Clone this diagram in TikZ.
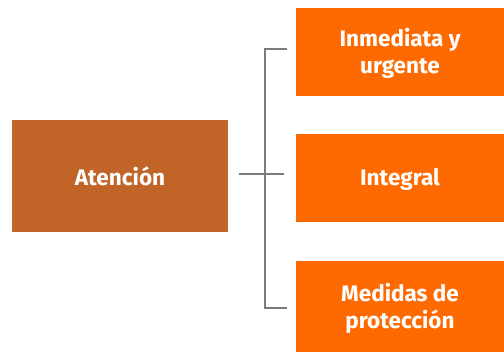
\documentclass[tikz,border=0pt]{standalone}
\usepackage{fontspec}
\setmainfont{Fira Sans}
\definecolor{leftc}{RGB}{192,101,39}
\definecolor{rightc}{RGB}{255,106,0}
\definecolor{linec}{RGB}{122,122,122}
\begin{document}
\begin{tikzpicture}[x=1pt,y=-1pt,
  box/.style={inner sep=0pt, text=white, font=\fontsize{22.5}{27}\selectfont\bfseries, align=center},
  conn/.style={draw=linec, line width=2.8pt}]
\useasboundingbox (0,0) rectangle (504,352);
\fill[leftc] (12,120) rectangle (228,232);
\node[box] (a) at (120,176) {Atención};
\fill[rightc] (296,8) rectangle (504,96);
\node[box] (b1) at (400,53) {Inmediata y\\urgente};
\fill[rightc] (296,134) rectangle (504,222);
\node[box] (b2) at (400,179) {Integral};
\fill[rightc] (296,261) rectangle (504,352);
\node[box] (b3) at (400,308) {Medidas de\\protección};
\coordinate (hl) at (239,174);
\coordinate (hr) at (284,174);
\coordinate (t) at (287,49);
\coordinate (bt) at (287,308);
\draw[conn] (hl) -- (hr);
\draw[conn] (t) -- (265,49) -- (265,308) -- (bt);
\end{tikzpicture}
\end{document}
